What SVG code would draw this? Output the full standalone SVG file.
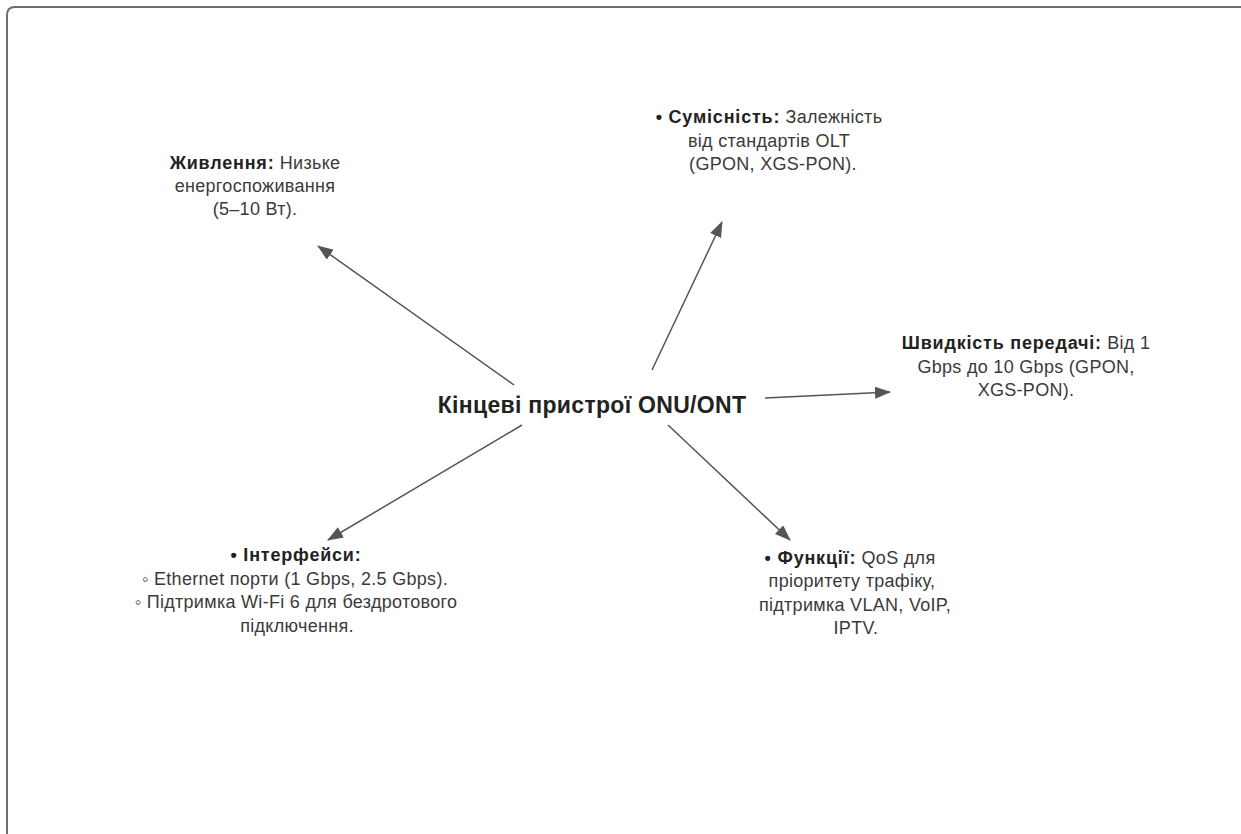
<svg xmlns="http://www.w3.org/2000/svg" width="1241" height="834" viewBox="0 0 1241 834">
<style>
text{font-family:"Liberation Sans",Arial,sans-serif;fill:#3a3a3a;font-size:18px;letter-spacing:0.3px;text-anchor:middle}
.b{font-weight:bold;fill:#222;letter-spacing:0.8px}
.title{font-size:23px;font-weight:bold;fill:#222;letter-spacing:0.3px}
.conn line{stroke:#555;stroke-width:1.5}
</style>
<defs>
<marker id="ah2" viewBox="0 0 16 12" refX="15" refY="6" markerWidth="16" markerHeight="12" markerUnits="userSpaceOnUse" orient="auto">
<path d="M0,0 L16,6 L0,12 Z" fill="#555"/>
</marker>
</defs>
<rect width="1241" height="834" fill="#fff"/>
<path d="M7,840 L7,15 Q7,7 15,7 L1245,7" fill="none" stroke="#6b6e76" stroke-width="2"/>
<g class="conn" id="connectors">
<line x1="514" y1="385" x2="318" y2="246" marker-end="url(#ah2)"/>
<line x1="652" y1="370" x2="722" y2="222" marker-end="url(#ah2)"/>
<line x1="765" y1="398" x2="890" y2="392" marker-end="url(#ah2)"/>
<line x1="522" y1="425" x2="328" y2="540" marker-end="url(#ah2)"/>
<line x1="668" y1="425" x2="790" y2="540" marker-end="url(#ah2)"/>
</g>
<g id="center"><text class="title" x="592" y="413">Кінцеві пристрої ONU/ONT</text></g>
<g id="power">
<text x="255" y="169"><tspan class="b">Живлення:</tspan> Низьке</text>
<text x="255" y="192">енергоспоживання</text>
<text x="255" y="215">(5–10 Вт).</text>
</g>
<g id="compat">
<text x="769" y="123"><tspan class="b">• Сумісність:</tspan> Залежність</text>
<text x="769" y="147">від стандартів OLT</text>
<text x="773" y="170">(GPON, XGS-PON).</text>
</g>
<g id="speed">
<text x="1026" y="349"><tspan class="b">Швидкість передачі:</tspan> Від 1</text>
<text x="1026" y="373">Gbps до 10 Gbps (GPON,</text>
<text x="1026" y="396">XGS-PON).</text>
</g>
<g id="interfaces">
<text x="296" y="561" class="b">• Інтерфейси:</text>
<text x="295" y="585">◦ Ethernet порти (1 Gbps, 2.5 Gbps).</text>
<text x="296" y="608">◦ Підтримка Wi-Fi 6 для бездротового</text>
<text x="297" y="632">підключення.</text>
</g>
<g id="functions">
<text x="850" y="564"><tspan class="b">• Функції:</tspan> QoS для</text>
<text x="852" y="587">пріоритету трафіку,</text>
<text x="855" y="611">підтримка VLAN, VoIP,</text>
<text x="856" y="634">IPTV.</text>
</g>
</svg>
